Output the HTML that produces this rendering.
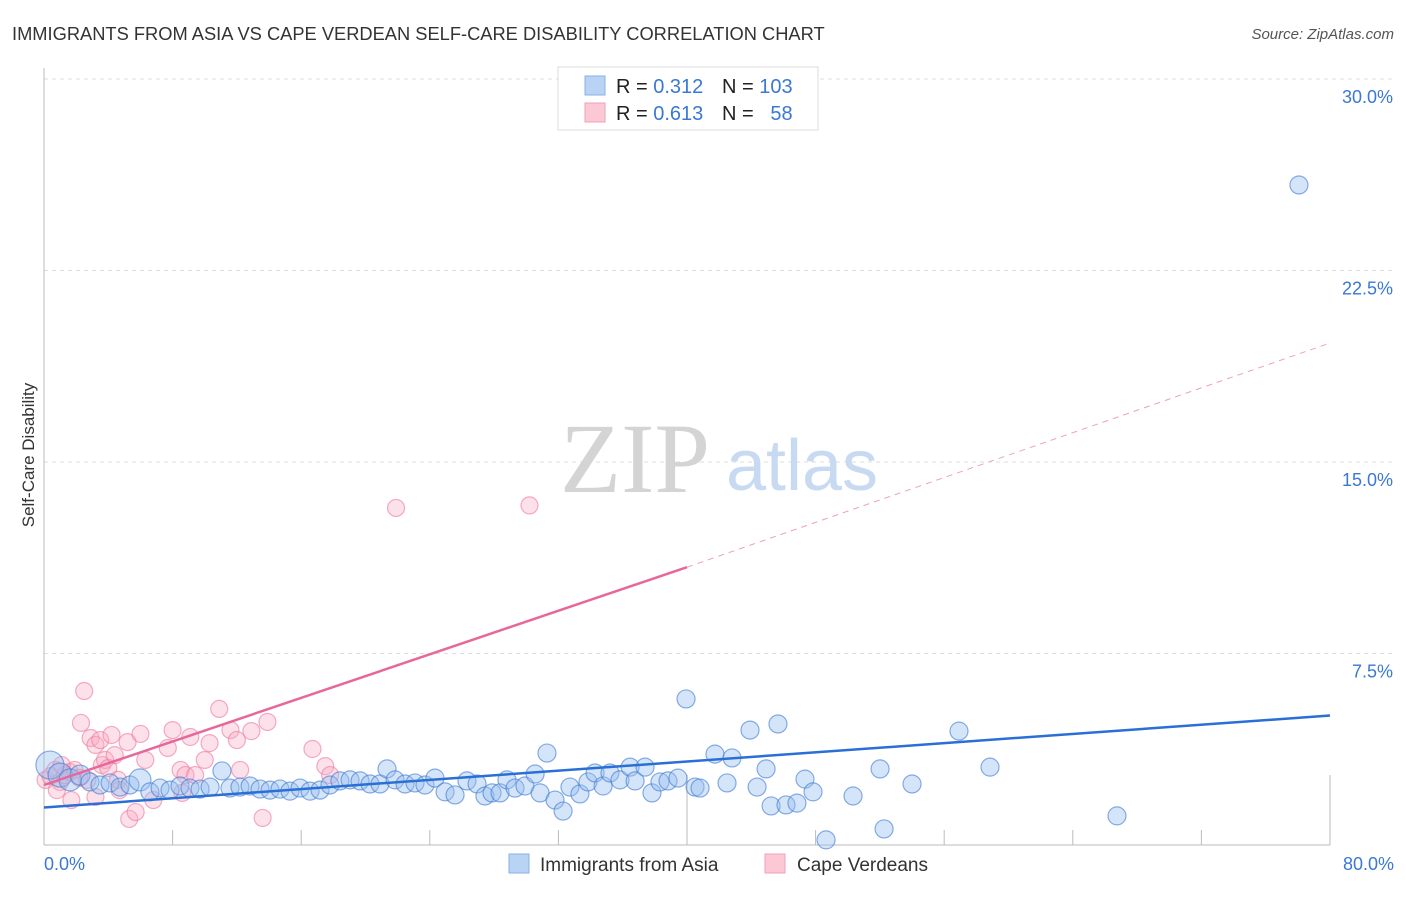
<!DOCTYPE html>
<html><head><meta charset="utf-8"><style>
body{margin:0;background:#fff;font-family:"Liberation Sans",sans-serif;}
</style></head><body>
<svg width="1406" height="892" xmlns="http://www.w3.org/2000/svg" font-family="Liberation Sans, sans-serif">
<text x="12" y="40" font-size="18.3" fill="#333">IMMIGRANTS FROM ASIA VS CAPE VERDEAN SELF-CARE DISABILITY CORRELATION CHART</text>
<text x="1394" y="39" font-size="15" fill="#555" font-style="italic" text-anchor="end">Source: ZipAtlas.com</text>
<g id="grid"></g>
<g>
<text x="635" y="492" font-size="100" fill="#d4d4d4" text-anchor="middle" style="font-family:'Liberation Serif',serif">ZIP</text>
<text x="802" y="490" font-size="72" fill="#c8daf2" text-anchor="middle">atlas</text>
</g>
<text x="34" y="455" font-size="17" fill="#333" transform="rotate(-90 34 455)" text-anchor="middle">Self-Care Disability</text>
<g id="axes"></g>
<g id="pts"></g>
<g id="lines"></g>
<g>
<rect x="558" y="67" width="260" height="63" fill="#fff" stroke="#ddd"/>
<rect x="585" y="76" width="20" height="19" fill="#b9d3f5" stroke="#8ab2e8"/>
<rect x="585" y="103" width="20" height="19" fill="#fcc8d6" stroke="#f0a0b8"/>
<text x="616" y="93" font-size="20" fill="#222">R = <tspan fill="#3a78d4">0.312</tspan></text>
<text x="722" y="93" font-size="20" fill="#222">N = <tspan fill="#3a78d4">103</tspan></text>
<text x="616" y="120" font-size="20" fill="#222">R = <tspan fill="#3a78d4">0.613</tspan></text>
<text x="722" y="120" font-size="20" fill="#222">N = <tspan fill="#3a78d4">&#160;&#160;58</tspan></text>
</g>
<g>
<rect x="509" y="854" width="20" height="19" fill="#b9d3f5" stroke="#8ab2e8"/>
<text x="540" y="871" font-size="19" fill="#333">Immigrants from Asia</text>
<rect x="765" y="854" width="20" height="19" fill="#fcc8d6" stroke="#f0a0b8"/>
<text x="797" y="871" font-size="19" fill="#333">Cape Verdeans</text>
</g>
</svg>
<script>
const yTicks=[7.5,15,22.5,30];
const yTickLabels=["7.5%","15.0%","22.5%","30.0%"];
const xTickLabels=["0.0%","80.0%"];
const asiaX=[0.37,1.00,1.62,2.24,2.86,3.48,4.11,4.73,5.35,5.97,
6.59,7.22,7.84,8.46,9.08,9.71,10.33,11.07,11.57,12.19,
12.82,13.44,14.06,14.68,15.30,15.93,16.55,17.17,17.79,18.41,
19.04,19.66,20.28,20.90,21.34,21.84,22.46,23.08,23.70,24.32,
24.95,25.57,26.31,26.94,27.43,27.87,28.37,28.80,29.30,29.92,
30.55,31.29,30.86,31.79,32.29,32.72,33.34,33.84,34.28,34.78,
35.21,35.83,36.46,36.77,37.39,37.82,38.32,38.82,39.44,39.94,
40.50,40.81,41.74,42.49,42.80,43.92,44.36,44.92,45.23,45.66,
46.16,46.84,47.34,47.84,48.65,50.33,52.01,52.26,54.00,56.92,
58.85,66.75,78.07];
const asiaY=[3.13,2.74,2.55,2.74,2.47,2.35,2.43,2.27,2.35,2.55,
2.08,2.23,2.15,2.31,2.23,2.19,2.27,2.90,2.23,2.27,
2.31,2.19,2.15,2.19,2.11,2.23,2.11,2.15,2.35,2.51,
2.55,2.51,2.39,2.39,2.98,2.55,2.39,2.43,2.35,2.62,
2.08,1.96,2.51,2.39,1.92,2.04,2.04,2.55,2.23,2.31,
2.78,3.60,2.04,1.76,1.33,2.27,2.00,2.47,2.82,2.31,
2.82,2.55,3.05,2.51,3.05,2.04,2.47,2.51,2.62,5.72,
2.27,2.23,3.56,2.43,3.41,4.50,2.27,2.98,1.53,4.74,
1.57,1.64,2.58,2.08,0.20,1.92,2.98,0.63,2.39,4.46,
3.05,1.14,25.85];
const asiaR=[14,12,11,10,9,9,9,9,9,11];
const cvX=[0.1,0.4,0.7,1.0,1.3,1.6,1.9,2.2,2.5,2.3,2.9,3.2,3.5,3.6,3.8,3.2,4.0,4.2,4.4,4.6,4.7,5.2,5.3,5.7,6.0,6.3,6.8,7.7,8.0,8.5,8.6,8.8,9.1,9.4,10.0,10.3,10.9,11.6,12.0,12.2,12.9,13.6,13.9,16.7,17.5,17.8,21.9,30.2,1.1,1.7,2.7,0.8];
const cvY=[2.55,2.70,2.94,2.47,2.74,2.86,2.94,2.63,6.03,4.78,4.19,3.92,4.11,3.13,3.33,1.88,3.01,4.31,3.52,2.55,2.15,4.03,1.02,1.29,4.35,3.33,1.76,3.80,4.50,2.94,2.04,2.74,4.23,2.74,3.33,3.99,5.33,4.50,4.11,2.94,4.46,1.06,4.82,3.76,3.09,2.74,13.2,13.3,3.13,1.76,2.55,2.15];
const asiaTrend=[[0,1.47],[80,5.07]];
const cvTrendSolid=[[0,2.35],[40,10.88]];
const cvTrendDash=[[40,10.88],[80,19.66]];
const X=v=>44+v/80*1286, Y=v=>845-v/7.5*191.5;
const NS="http://www.w3.org/2000/svg";
function mk(t,a,p){const e=document.createElementNS(NS,t);for(const k in a)e.setAttribute(k,a[k]);p.appendChild(e);return e;}
const grid=document.getElementById('grid'),axes=document.getElementById('axes'),pts=document.getElementById('pts'),lines=document.getElementById('lines');
yTicks.forEach((t,i)=>{
 const l=mk('line',{x1:44,x2:1395,y1:Y(t),y2:Y(t),stroke:'#ddd','stroke-dasharray':'4,4'},grid);
 
 
 const tx=mk('text',{x:1393,y:Y(t)+24,'font-size':18,fill:'#3a78d4','text-anchor':'end'},axes);
 tx.textContent=yTickLabels[i];
 
 
});
mk('line',{x1:44,x2:44,y1:68,y2:845,stroke:'#bbb'},axes);
mk('line',{x1:44,x2:1330,y1:845,y2:845,stroke:'#bbb'},axes);
for(let i=1;i<=10;i++){const v=i*8;const tall=(i==5||i==10);
 const tk=mk('line',{x1:X(v),x2:X(v),y1:tall?775:830,y2:845,stroke:'#bbb'},axes);
 
 }
[[0,'start',44],[80,'end',1394]].forEach((d,i)=>{const t=mk('text',{x:d[2],y:870,'font-size':18,fill:'#3a78d4','text-anchor':d[1]},axes);t.textContent=xTickLabels[i];
 
 });
cvX.forEach((x,i)=>{const c=mk('circle',{cx:X(x),cy:Y(cvY[i]),r:8.5,fill:'rgba(248,170,195,0.35)',stroke:'rgba(236,120,155,0.6)','stroke-width':1.2},pts);
 
 });
asiaX.forEach((x,i)=>{const c=mk('circle',{cx:X(x),cy:Y(asiaY[i]),r:asiaR[i]||9,fill:'rgba(150,190,240,0.4)',stroke:'rgba(60,120,210,0.6)','stroke-width':1.2},pts);
 
 });
const l1=mk('line',{x1:X(asiaTrend[0][0]),y1:Y(asiaTrend[0][1]),x2:X(asiaTrend[1][0]),y2:Y(asiaTrend[1][1]),stroke:'#2a6fd6','stroke-width':2.5},lines);


const l2=mk('line',{x1:X(cvTrendSolid[0][0]),y1:Y(cvTrendSolid[0][1]),x2:X(cvTrendSolid[1][0]),y2:Y(cvTrendSolid[1][1]),stroke:'#e8679a','stroke-width':2.5},lines);


const l3=mk('line',{x1:X(cvTrendDash[0][0]),y1:Y(cvTrendDash[0][1]),x2:X(cvTrendDash[1][0]),y2:Y(cvTrendDash[1][1]),stroke:'#efa0bd','stroke-width':1,'stroke-dasharray':'6,5'},lines);


</script>
</body></html>
